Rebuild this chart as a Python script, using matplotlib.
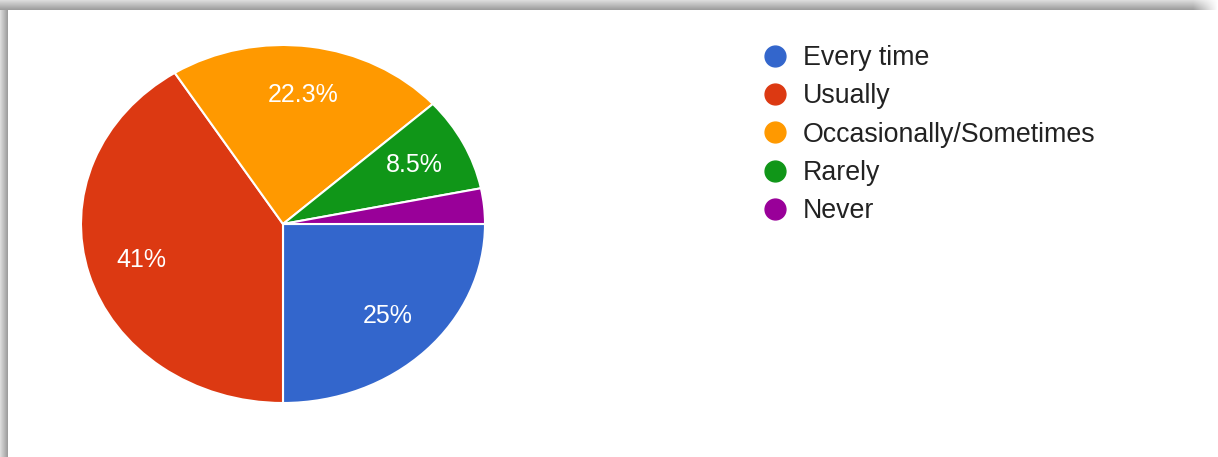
import numpy as np
import matplotlib.pyplot as plt
from matplotlib.lines import Line2D

plt.rcParams['font.family'] = ['Liberation Sans', 'DejaVu Sans']

answers = ['Every time', 'Usually', 'Occasionally/Sometimes', 'Rarely', 'Never']
shares = [25.0, 41.0, 22.3, 8.5, 3.2]
pct_labels = ['25%', '41%', '22.3%', '8.5%', '']
colors = ['#3366cc', '#dc3912', '#ff9900', '#109618', '#990099']

W, H = 1218, 457
fig = plt.figure(figsize=(W / 100, H / 100), dpi=100, facecolor='white')

# grey shadow band along the top and left edge of the screenshot
top = np.linspace(0.86, 0.62, 10)
band = np.tile(top[:, None], (1, W))
fade = np.clip(np.linspace(1.6, 0.0, 40), 0, 1)
band[:, -40:] = band[:, -40:] * fade + (1 - fade)
fig.figimage(np.dstack([band] * 3), xo=0, yo=H - 10, origin='upper')
left = np.linspace(0.86, 0.62, 8)
lband = np.tile(left[None, :], (H - 10, 1))
fig.figimage(np.dstack([lband] * 3), xo=0, yo=0, origin='upper')

ax = fig.add_axes([81 / W, (H - 403) / H, 404 / W, 358 / H])
wedges, _, autotexts = ax.pie(
    shares, colors=colors, startangle=0, counterclock=False,
    labels=None, autopct=lambda p: '', pctdistance=0.73,
    wedgeprops={'edgecolor': 'white', 'linewidth': 1.5})
for t, lab in zip(autotexts, pct_labels):
    t.set_text(lab)
    t.set_color('white')
    t.set_fontsize(18)
ax.set_aspect('auto')
ax.set_xlim(-1.0, 1.0)
ax.set_ylim(-1.0, 1.0)

handles = [Line2D([], [], marker='o', linestyle='none', markersize=15,
                  markerfacecolor=c, markeredgecolor=c) for c in colors]
leg = fig.legend(handles, answers, loc='upper left',
                 bbox_to_anchor=(762 / W, 1 - 45 / H), frameon=False,
                 fontsize=19.3, labelspacing=0.46, handletextpad=0.52,
                 handlelength=1.0, borderaxespad=0, borderpad=0)
for t in leg.get_texts():
    t.set_color('#222222')

fig.savefig('out.png', dpi=100)
